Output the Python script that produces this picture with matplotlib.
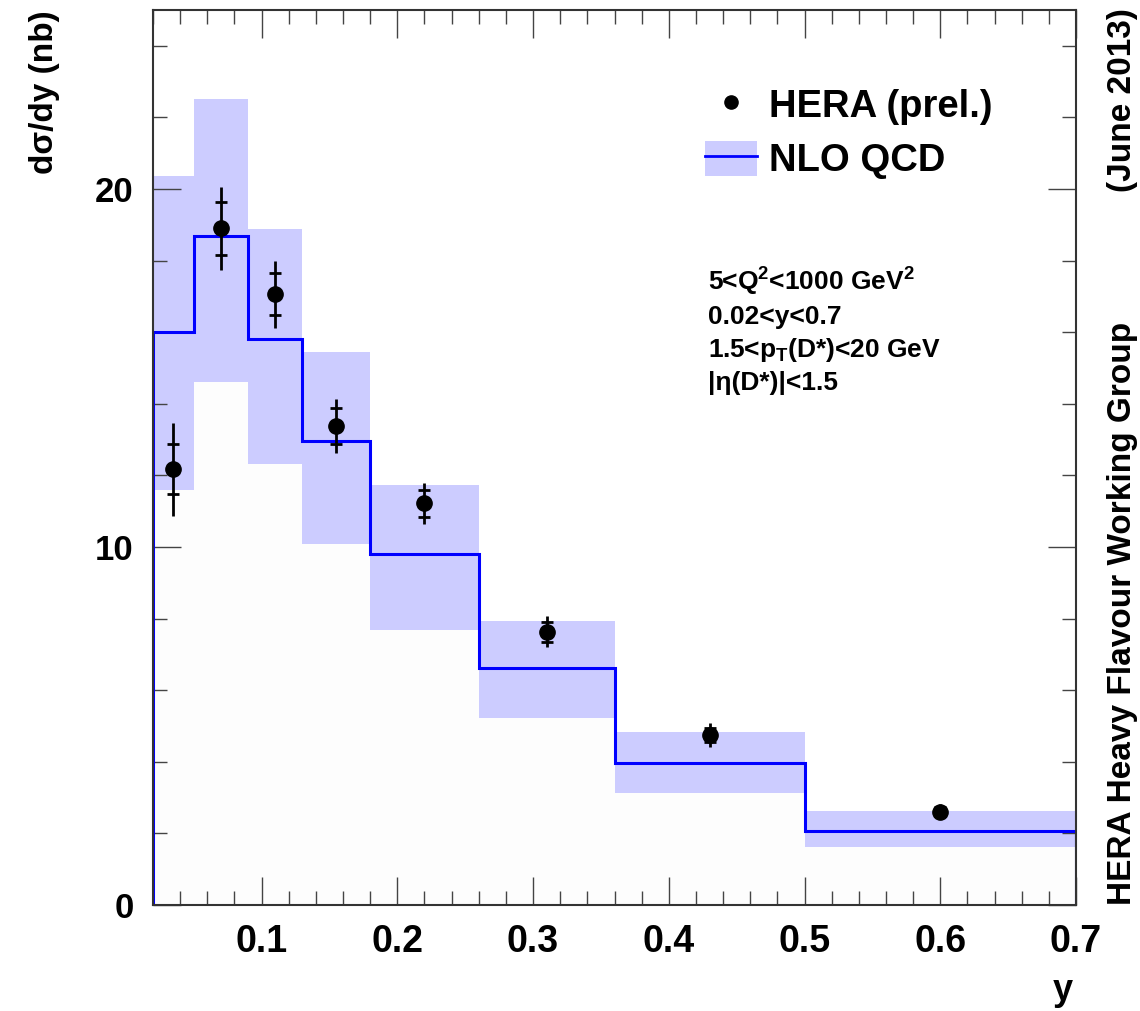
"""
HERA D* cross section d(sigma)/dy vs NLO QCD (June 2013 preliminary).
"""
import matplotlib
matplotlib.use('Agg')
import matplotlib.pyplot as plt
from matplotlib.lines import Line2D
from matplotlib.patches import Patch
from matplotlib.ticker import MultipleLocator

plt.rcParams['font.family'] = ['Liberation Sans', 'DejaVu Sans']
plt.rcParams['font.weight'] = 'bold'
plt.rcParams['mathtext.fontset'] = 'custom'
plt.rcParams['mathtext.rm'] = 'Liberation Sans:bold'
plt.rcParams['mathtext.bf'] = 'Liberation Sans:bold'
plt.rcParams['mathtext.it'] = 'Liberation Sans:bold'
plt.rcParams['mathtext.default'] = 'rm'

# bin edges in y
edges = [0.02, 0.05, 0.09, 0.13, 0.18, 0.26, 0.36, 0.5, 0.7]

# HERA combined data
hera_y = [0.035, 0.07, 0.11, 0.155, 0.22, 0.31, 0.43, 0.6]
hera_xs = [12.17, 18.9, 17.06, 13.38, 11.22, 7.63, 4.75, 2.61]
hera_stat = [0.70, 0.75, 0.59, 0.50, 0.37, 0.27, 0.20, 0.12]
hera_tot = [1.30, 1.16, 0.94, 0.75, 0.57, 0.43, 0.33, 0.20]

# NLO QCD prediction and uncertainty band
nlo = [16.0, 18.69, 15.81, 12.96, 9.81, 6.61, 3.96, 2.08]
nlo_lo = [11.6, 14.6, 12.31, 10.08, 7.68, 5.23, 3.12, 1.63]
nlo_hi = [20.36, 22.51, 18.87, 15.44, 11.72, 7.93, 4.82, 2.63]

cuts = ['5<Q$^2$<1000 GeV$^2$', '0.02<y<0.7',
	'1.5<p$_T$(D*)<20 GeV', '|η(D*)|<1.5']

band_col = '#ccccff'
line_col = '#0000ff'

fig = plt.figure(figsize=(11.4, 10.11), dpi=100)
ax = fig.add_axes([153 / 1140, 106 / 1011, 923 / 1140, 895 / 1011])

# band + white-ish fill below it (ROOT style)
ax.stairs(nlo_hi, edges, baseline=nlo_lo, fill=True, color=band_col, zorder=1)
ax.stairs(nlo_lo, edges, baseline=0, fill=True, color='#fdfdfd', zorder=1)
ax.stairs(nlo, edges, baseline=0, color=line_col, linewidth=2.2, zorder=2)

# data: total errors, stat ticks
ax.errorbar(hera_y, hera_xs, yerr=hera_tot, fmt='o', color='black', ms=11,
	elinewidth=2.0, capsize=0, zorder=4)
ax.errorbar(hera_y, hera_xs, yerr=hera_stat, fmt='none', ecolor='black',
	elinewidth=0, capsize=4.5, capthick=2.0, zorder=4)

ax.set_xlim(0.02, 0.7)
ax.set_ylim(0, 25)
ax.xaxis.set_major_locator(MultipleLocator(0.1))
ax.xaxis.set_minor_locator(MultipleLocator(0.02))
ax.yaxis.set_major_locator(MultipleLocator(10))
ax.yaxis.set_minor_locator(MultipleLocator(2))
ax.tick_params(which='both', direction='in', top=True, right=True, color='#444444')
ax.tick_params(which='major', length=20, width=1.0)
ax.tick_params(which='minor', length=10, width=1.0)
ax.tick_params(axis='x', which='major', labelsize=27, pad=14)
ax.tick_params(axis='y', which='major', labelsize=25, pad=14)
ax.set_xticks([0.1, 0.2, 0.3, 0.4, 0.5, 0.6, 0.7])
ax.set_xticklabels(['0.1', '0.2', '0.3', '0.4', '0.5', '0.6', '0.7'])
for s in ax.spines.values():
	s.set_linewidth(1.5)
	s.set_color('#333333')

# legend
h_data = Line2D([], [], marker='o', ls='none', color='black', ms=9.5)
h_nlo = (Patch(facecolor=band_col, edgecolor='none'), Line2D([], [], color=line_col, lw=2))
ax.legend([h_data, h_nlo], ['HERA (prel.)', 'NLO QCD'], loc='upper left',
	bbox_to_anchor=(0.598, 0.914), frameon=False, fontsize=27.5, borderpad=0,
	borderaxespad=0, handlelength=1.36, handleheight=1.03, labelspacing=0.4,
	handletextpad=0.32)

for i, c in enumerate(cuts):
	ax.text(0.601, 0.686 - i * 0.0369, c, transform=ax.transAxes, fontsize=19,
		fontweight='bold', va='baseline', ha='left')

fig.text(45 / 1140, 1 - 10 / 1011, 'dσ/dy (nb)', rotation=90, ha='center', va='top',
	fontsize=24, fontweight='bold')
fig.text(1063 / 1140, 1 - 990 / 1011, 'y', ha='center', va='center',
	fontsize=26, fontweight='bold')
fig.text(1122 / 1140, 1 - 905 / 1011, 'HERA Heavy Flavour Working Group', rotation=90,
	ha='center', va='bottom', fontsize=24, fontweight='bold')
fig.text(1122 / 1140, 1 - 8 / 1011, '(June 2013)', rotation=90,
	ha='center', va='top', fontsize=24, fontweight='bold')

fig.savefig('out.png', dpi=100)
